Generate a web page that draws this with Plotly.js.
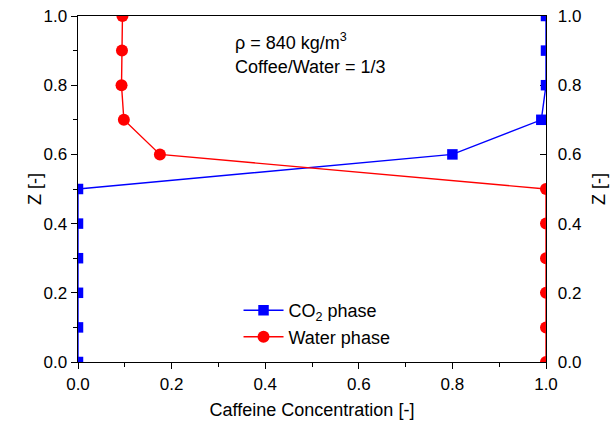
<!DOCTYPE html>
<html><head><meta charset="utf-8">
<script src="https://cdn.plot.ly/plotly-3.0.1.min.js"></script>
<style>html,body{margin:0;padding:0;background:#fff}</style>
</head><body><div id="chart" style="width:613px;height:426px"></div>
<script>
const zLevels = [0, 0.1, 0.2, 0.3, 0.4, 0.5, 0.6, 0.7, 0.8, 0.9, 1.0];
const co2Conc = [0, 0, 0, 0, 0, 0, 0.80, 0.99, 1.0, 1.0, 1.0];
const waterConc = [1.0, 1.0, 1.0, 1.0, 1.0, 1.0, 0.175, 0.098, 0.093, 0.094, 0.095];
const seriesNames = ['CO<sub>2</sub> phase', 'Water phase'];
const xTitle = 'Caffeine Concentration [-]';
const yTitle = 'Z [-]';
const noteLines = ['ρ = 840 kg/m<sup>3</sup>', 'Coffee/Water = 1/3'];

const FAM = 'Liberation Sans, Arial, sans-serif';
const tickF = {family: FAM, size: 17, color: '#000'};
const bigF = {family: FAM, size: 18, color: '#000'};
const traces = [
  {x: co2Conc, y: zLevels, name: seriesNames[0], mode: 'lines+markers',
   line: {color: '#0000ff', width: 1.4}, marker: {symbol: 'square', size: 10.5, color: '#0000ff'}},
  {x: waterConc, y: zLevels, name: seriesNames[1], mode: 'lines+markers',
   line: {color: '#ff0000', width: 1.4}, marker: {symbol: 'circle', size: 12, color: '#ff0000'}}
];
const layout = {
  width: 613, height: 426,
  margin: {l: 78, r: 67, t: 16, b: 64},
  paper_bgcolor: '#fff', plot_bgcolor: '#fff',
  font: tickF,
  showlegend: true,
  legend: {x: 0.343, y: 0.02, xanchor: 'left', yanchor: 'bottom', bgcolor: 'rgba(0,0,0,0)',
           font: bigF, tracegroupgap: 0, itemwidth: 40},
  xaxis: {range: [0, 1], dtick: 0.2, tick0: 0, tickformat: '.1f', ticks: 'outside', ticklen: 6,
          tickwidth: 1, tickcolor: '#000', showline: true, linecolor: '#000', linewidth: 1.4,
          mirror: true, showgrid: false, zeroline: false, layer: 'below traces',
          minor: {dtick: 0.1, ticks: 'outside', ticklen: 4, tickcolor: '#000', showgrid: false},
          title: {text: xTitle, font: bigF, standoff: 10},
          tickfont: tickF},
  yaxis: {range: [0, 1], dtick: 0.2, tick0: 0, tickformat: '.1f', ticks: 'outside', ticklen: 6,
          tickwidth: 1, tickcolor: '#000', showline: true, linecolor: '#000', linewidth: 1.4,
          showgrid: false, zeroline: false, layer: 'below traces',
          minor: {dtick: 0.1, ticks: 'outside', ticklen: 4, tickcolor: '#000', showgrid: false},
          tickfont: tickF},
  yaxis2: {range: [0, 1], overlaying: 'y', side: 'right', dtick: 0.2, tick0: 0, tickformat: '.1f',
          ticks: 'inside', ticklen: 6, tickwidth: 1, tickcolor: '#000', showline: true,
          linecolor: '#000', linewidth: 1.4, showgrid: false, zeroline: false, layer: 'below traces',
          minor: {dtick: 0.1, ticks: 'inside', ticklen: 4, tickcolor: '#000', showgrid: false},
          ticklabelstandoff: 7,
          title: {text: yTitle, font: bigF, standoff: 12},
          tickfont: tickF},
  annotations: [
    {xref: 'paper', yref: 'paper', x: 0.332, y: 0.925, xanchor: 'left', yanchor: 'middle',
     text: noteLines[0], showarrow: false, font: bigF},
    {xref: 'paper', yref: 'paper', x: 0.332, y: 0.853, xanchor: 'left', yanchor: 'middle',
     text: noteLines[1], showarrow: false, font: bigF},
    {xref: 'paper', yref: 'paper', x: -0.092, y: 0.5, xanchor: 'center', yanchor: 'middle',
     text: yTitle, textangle: -90, showarrow: false, font: bigF}
  ]
};
traces.push({x: [0], y: [0], yaxis: 'y2', mode: 'markers', marker: {opacity: 0}, showlegend: false, hoverinfo: 'skip'});
Plotly.newPlot('chart', traces, layout, {displayModeBar: false, staticPlot: true});
</script></body></html>
